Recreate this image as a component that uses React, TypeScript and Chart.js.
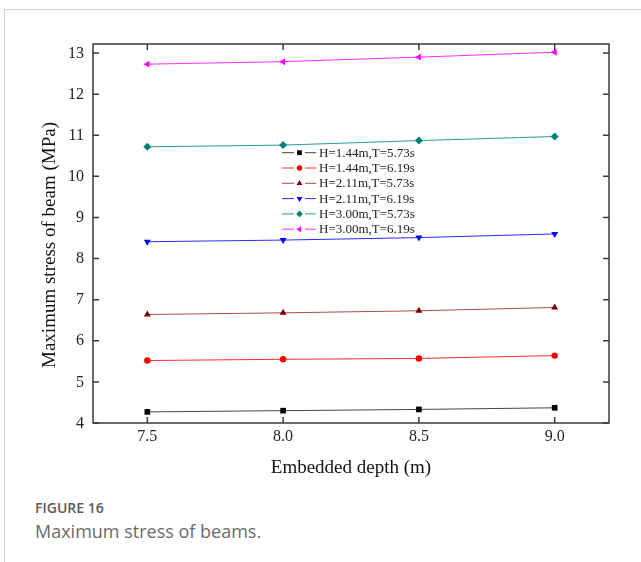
import React, { useEffect, useRef } from "react";
import { Chart, registerables } from "chart.js";
import { drawPoint } from "chart.js/helpers";

Chart.register(...registerables);

// ---- data ----
const depths = [7.5, 8.0, 8.5, 9.0];
const xTickValues = [7.5, 8.0, 8.5, 9.0];
const yTickValues = [4, 5, 6, 7, 8, 9, 10, 11, 12, 13];

const seriesLabels = [
  "H=1.44m,T=5.73s",
  "H=1.44m,T=6.19s",
  "H=2.11m,T=5.73s",
  "H=2.11m,T=6.19s",
  "H=3.00m,T=5.73s",
  "H=3.00m,T=6.19s",
];
const h144t573 = [4.27, 4.3, 4.33, 4.37];
const h144t619 = [5.52, 5.55, 5.57, 5.64];
const h211t573 = [6.64, 6.68, 6.73, 6.81];
const h211t619 = [8.41, 8.45, 8.51, 8.6];
const h300t573 = [10.72, 10.76, 10.87, 10.97];
const h300t619 = [12.73, 12.79, 12.9, 13.02];
const seriesValues = [h144t573, h144t619, h211t573, h211t619, h300t573, h300t619];

const xTitle = "Embedded depth (m)";
const yTitle = "Maximum stress of beam (MPa)";

const markerColors = ["#000000", "#ff0000", "#800000", "#0000ff", "#008080", "#ff00ff"];
const lineColors = ["#444444", "#ff2a2a", "#b04848", "#2a2aff", "#2a9a94", "#ff2aff"];
const pointStyles = ["rect", "circle", "triangle", "triangle", "rectRot", "triangle"];
const pointRotations = [0, 0, 0, 180, 0, -90];
const pointRadii = [4, 3.2, 4, 4, 4, 4];

const SERIF = '"Liberation Serif", "Times New Roman", serif';
Chart.defaults.font.family = SERIF;

const framePlugin = {
  id: "frameTicks",
  afterDraw(chart: any) {
    const { ctx, chartArea } = chart;
    const { left, right, top, bottom } = chartArea;
    const xs = chart.scales.x;
    const ys = chart.scales.y;
    const tl = 6;
    ctx.save();
    ctx.strokeStyle = "#3a3a3a";
    ctx.lineWidth = 1.5;
    ctx.strokeRect(left, top, right - left, bottom - top);
    ctx.beginPath();
    xTickValues.forEach((v) => {
      const px = xs.getPixelForValue(v);
      ctx.moveTo(px, bottom);
      ctx.lineTo(px, bottom - tl);
      ctx.moveTo(px, top);
      ctx.lineTo(px, top + tl);
    });
    yTickValues.forEach((v) => {
      const py = ys.getPixelForValue(v);
      ctx.moveTo(left, py);
      ctx.lineTo(left + tl, py);
      ctx.moveTo(right, py);
      ctx.lineTo(right - tl, py);
    });
    ctx.stroke();

    // tick labels
    ctx.font = `16px ${SERIF}`;
    ctx.fillStyle = "#222222";
    ctx.textBaseline = "middle";
    ctx.textAlign = "center";
    xTickValues.forEach((v) => {
      ctx.fillText(v.toFixed(1), xs.getPixelForValue(v), bottom + 14);
    });
    ctx.textAlign = "right";
    yTickValues.forEach((v) => {
      ctx.fillText(String(v), left - 9, ys.getPixelForValue(v) + 0.5);
    });

    // rotated y-axis title
    ctx.translate(50, 245);
    ctx.rotate(-Math.PI / 2);
    ctx.font = `19px ${SERIF}`;
    ctx.fillStyle = "#111111";
    ctx.textAlign = "center";
    ctx.textBaseline = "middle";
    ctx.fillText(yTitle, 0, 0);
    ctx.restore();
  },
};

const legendPlugin = {
  id: "innerLegend",
  afterDraw(chart: any) {
    const { ctx } = chart;
    ctx.save();
    ctx.font = `13px ${SERIF}`;
    ctx.textBaseline = "middle";
    ctx.textAlign = "left";
    chart.data.datasets.forEach((ds: any, i: number) => {
      const y = 152.7 + i * 15.3;
      ctx.strokeStyle = ds.borderColor;
      ctx.lineWidth = 1;
      ctx.beginPath();
      ctx.moveTo(282, y);
      ctx.lineTo(294, y);
      ctx.moveTo(305, y);
      ctx.lineTo(316, y);
      ctx.stroke();
      ctx.fillStyle = ds.pointBackgroundColor;
      ctx.strokeStyle = ds.pointBorderColor;
      drawPoint(
        ctx,
        {
          pointStyle: ds.pointStyle,
          rotation: ds.pointRotation,
          radius: ds.pointRadius * 0.85,
          borderWidth: 0,
        } as any,
        299.5,
        y
      );
      ctx.fillStyle = "#222222";
      ctx.fillText(ds.label, 319, y + 0.5);
    });
    ctx.restore();
  },
};

function StressChart() {
  const ref = useRef<HTMLCanvasElement | null>(null);
  useEffect(() => {
    if (!ref.current) return;
    const datasets = seriesLabels.map((label, i) => ({
      label,
      data: depths.map((d, j) => ({ x: d, y: seriesValues[i][j] })),
      borderColor: lineColors[i],
      backgroundColor: markerColors[i],
      borderWidth: 1,
      pointStyle: pointStyles[i],
      pointRotation: pointRotations[i],
      pointRadius: pointRadii[i],
      pointBackgroundColor: markerColors[i],
      pointBorderColor: markerColors[i],
      pointBorderWidth: 0,
      tension: 0,
    }));
    const chart = new Chart(ref.current, {
      type: "line",
      data: { datasets } as any,
      options: {
        responsive: false,
        animation: false,
        devicePixelRatio: 1,
        layout: { padding: { left: 0, top: 44, right: 32, bottom: 7 } },
        plugins: { legend: { display: false }, tooltip: { enabled: false } },
        scales: {
          x: {
            type: "linear",
            min: 7.3,
            max: 9.2,
            afterBuildTicks: (s: any) => {
              s.ticks = xTickValues.map((v) => ({ value: v }));
            },
            afterFit: (s: any) => {
              s.height = 60;
            },
            grid: { display: false, drawTicks: false },
            border: { display: false },
            ticks: { display: false },
            title: {
              display: true,
              text: xTitle,
              color: "#111111",
              font: { family: SERIF, size: 19 },
              padding: { top: 0, bottom: 4 },
            },
          },
          y: {
            type: "linear",
            min: 4,
            max: 13.22,
            afterBuildTicks: (s: any) => {
              s.ticks = yTickValues.map((v) => ({ value: v }));
            },
            afterFit: (s: any) => {
              s.width = 93;
            },
            grid: { display: false, drawTicks: false },
            border: { display: false },
            ticks: { display: false },
            title: { display: false },
          },
        },
      } as any,
      plugins: [framePlugin, legendPlugin],
    });
    return () => chart.destroy();
  }, []);
  return (
    <canvas
      ref={ref}
      width={641}
      height={490}
      style={{ position: "absolute", left: 0, top: 0, width: 641, height: 490 }}
    />
  );
}

export default function App() {
  return (
    <div
      style={{
        position: "absolute",
        left: 0,
        top: 0,
        width: 641,
        height: 562,
        background: "#ffffff",
        overflow: "hidden",
      }}
    >
      <div
        style={{
          position: "absolute",
          left: 4,
          top: 9,
          width: 700,
          height: 700,
          borderLeft: "1px solid #d0d0d0",
          borderTop: "1px solid #d0d0d0",
        }}
      />
      <StressChart />
      <div
        style={{
          position: "absolute",
          left: 35,
          top: 498,
          fontFamily: "'Open Sans', 'Noto Sans', sans-serif",
          fontWeight: 600,
          fontSize: 14,
          lineHeight: "20px",
          color: "#5a5a5a",
          whiteSpace: "nowrap",
        }}
      >
        FIGURE 16
      </div>
      <div
        style={{
          position: "absolute",
          left: 35,
          top: 519,
          fontFamily: "'Open Sans', 'Noto Sans', sans-serif",
          fontWeight: 400,
          fontSize: 18,
          lineHeight: "24px",
          color: "#6b6b6b",
          whiteSpace: "nowrap",
        }}
      >
        Maximum stress of beams.
      </div>
    </div>
  );
}
